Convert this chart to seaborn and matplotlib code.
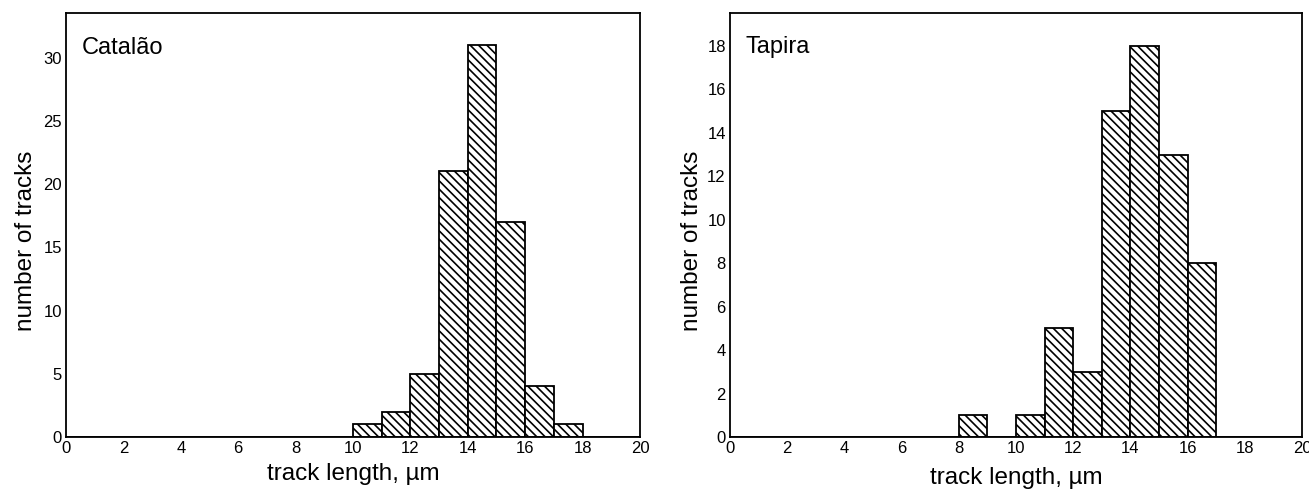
import numpy as np
import pandas as pd
import matplotlib
matplotlib.use("Agg")
import matplotlib.pyplot as plt
import seaborn as sns

# Data
bin_edges = list(range(0, 21, 1))
catalao_lengths = [10.5, 11.5, 12.5, 13.5, 14.5, 15.5, 16.5, 17.5]
catalao_counts = [1, 2, 5, 21, 31, 17, 4, 1]
tapira_lengths = [8.5, 10.5, 11.5, 12.5, 13.5, 14.5, 15.5, 16.5]
tapira_counts = [1, 1, 5, 3, 15, 18, 13, 8]
x_ticks = list(range(0, 21, 2))
catalao_yticks = [0, 5, 10, 15, 20, 25, 30]
tapira_yticks = list(range(0, 19, 2))

sns.set_theme(style="white")
plt.rcParams['font.family'] = ['Liberation Sans', 'DejaVu Sans']
plt.rcParams['hatch.linewidth'] = 1.2
plt.rcParams['hatch.color'] = 'black'
plt.rcParams['text.color'] = 'black'
plt.rcParams['axes.labelcolor'] = 'black'
plt.rcParams['xtick.color'] = 'black'
plt.rcParams['ytick.color'] = 'black'

fig = plt.figure(figsize=(13.09, 4.90), dpi=100)
ax1 = fig.add_axes([0.0504, 0.108, 0.4385, 0.865])
ax2 = fig.add_axes([0.5577, 0.108, 0.437, 0.865])

HATCH = "\\\\\\\\"
panels = [
    (ax1, catalao_lengths, catalao_counts, "Catalão", catalao_yticks, 33.5, -0.05, 0.917, -0.062),
    (ax2, tapira_lengths, tapira_counts, "Tapira", tapira_yticks, 19.5, -0.048, 0.92, -0.07),
]
for ax, xs, ws, name, yt, ymax, ylx, ty, xly in panels:
    df = pd.DataFrame({"length": xs, "count": ws})
    sns.histplot(data=df, x="length", weights="count", bins=bin_edges, ax=ax,
                 color="white", edgecolor="black", linewidth=1.3, alpha=1,
                 hatch=HATCH)
    for p in ax.patches:
        p.set_hatch(HATCH)
    ax.set_xlim(0, 20)
    ax.set_ylim(0, ymax)
    ax.set_xticks(x_ticks)
    ax.set_yticks(yt)
    ax.tick_params(axis="both", labelsize=12, length=0, pad=3)
    ax.set_xlabel("track length, µm", fontsize=17.5)
    ax.set_ylabel("number of tracks", fontsize=17.5)
    ax.yaxis.set_label_coords(ylx, 0.462)
    ax.xaxis.set_label_coords(0.5, xly)
    for s in ax.spines.values():
        s.set_color("black")
        s.set_linewidth(1.3)
    ax.text(0.027, ty, name, transform=ax.transAxes, fontsize=17,
            ha="left", va="center")

fig.savefig("out.png", dpi=100)
